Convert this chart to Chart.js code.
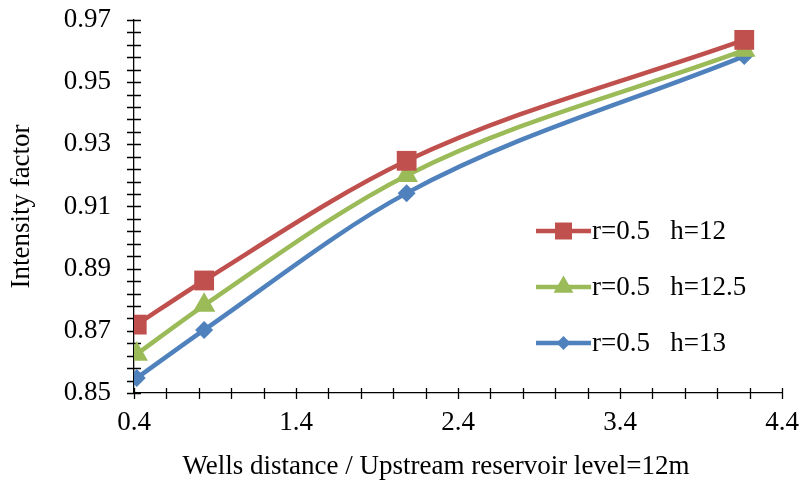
<!DOCTYPE html>
<html>
<head>
<meta charset="utf-8">
<script src="https://cdn.jsdelivr.net/npm/chart.js@4/dist/chart.umd.min.js"></script>
<style>
  html, body { margin: 0; padding: 0; background: #fff; }
  #wrap { width: 803px; height: 495px; }
</style>
</head>
<body>
<div id="wrap"><canvas id="myChart"></canvas></div>
<script>
// well distance / upstream level (5, 10, 25, 50 m over 12 m)
const xValues = [0.417, 0.833, 2.083, 4.167];
const seriesNames = ["r=0.5   h=12", "r=0.5   h=12.5", "r=0.5   h=13"];
const h12 = [0.8720, 0.8862, 0.9247, 0.9636];
const h125 = [0.8625, 0.8782, 0.9200, 0.9603];
const h13 = [0.8548, 0.8703, 0.9143, 0.9584];
const xTicks = [0.4, 1.4, 2.4, 3.4, 4.4];
const yTicks = [0.85, 0.87, 0.89, 0.91, 0.93, 0.95, 0.97];
const xTitle = "Wells distance / Upstream reservoir level=12m";

const colors = ["#C0504D", "#9BBB59", "#4F81BD"];
const shapes = ["rect", "triangle", "rectRot"];
const radii = [14, 13, 9];
const legendRadii = [12, 11.5, 7];
const serif = "'Liberation Serif', 'Times New Roman', serif";
const fontSize = 27;

function pts(ys) {
    return xValues.map((x, i) => ({x: x, y: ys[i]}));
}

const allSeries = [h12, h125, h13];
const datasets = allSeries.map((s, i) => ({
    label: seriesNames[i],
    data: pts(s),
    showLine: true,
    borderColor: colors[i],
    backgroundColor: colors[i],
    borderWidth: 4.5,
    cubicInterpolationMode: "monotone",
    pointStyle: shapes[i],
    pointRadius: radii[i],
    pointBorderWidth: 0,
    pointHoverRadius: radii[i]
}));

function isMajor(v, list) {
    return list.some(t => Math.abs(t - v) < 1e-6);
}

// tick marks that cross the axis line, like the excel original
const crossTicks = {
    id: "crossTicks",
    beforeDatasetsDraw(chart) {
        const ctx = chart.ctx;
        const xs = chart.scales.x, ys = chart.scales.y;
        const area = chart.chartArea;
        ctx.save();
        ctx.strokeStyle = "#000";
        ctx.lineWidth = 1.3;
        ctx.beginPath();
        xs.ticks.forEach(t => {
            const px = Math.round(xs.getPixelForValue(t.value)) + 0.5;
            ctx.moveTo(px, area.bottom - 5);
            ctx.lineTo(px, area.bottom + 6);
        });
        ys.ticks.forEach(t => {
            const py = Math.round(ys.getPixelForValue(t.value)) + 0.5;
            ctx.moveTo(area.left - 7, py);
            ctx.lineTo(area.left + 7, py);
        });
        ctx.stroke();
        ctx.restore();
    }
};

// legend sitting inside the plot, right side + x title (excel puts it a bit left of centre)
const innerLegend = {
    id: "innerLegend",
    afterDraw(chart) {
        const ctx = chart.ctx;
        const x0 = 536, x1 = 591, tx = 592;
        const rows = [231, 287, 343];
        ctx.save();
        ctx.font = fontSize + "px " + serif;
        ctx.textBaseline = "middle";
        chart.data.datasets.forEach((ds, i) => {
            const y = rows[i];
            ctx.strokeStyle = ds.borderColor;
            ctx.lineWidth = 4.5;
            ctx.beginPath();
            ctx.moveTo(x0, y);
            ctx.lineTo(x1, y);
            ctx.stroke();
            ctx.fillStyle = ds.backgroundColor;
            Chart.helpers.drawPoint(ctx, {pointStyle: ds.pointStyle, radius: legendRadii[i], borderWidth: 0}, (x0 + x1) / 2, y);
            ctx.fillStyle = "#000";
            ctx.fillText(ds.label, tx, y + 1);
        });
        ctx.textAlign = "center";
        ctx.fillText(xTitle, 436, 467);
        ctx.restore();
    }
};

new Chart(document.getElementById("myChart"), {
    type: "scatter",
    data: { datasets: datasets },
    options: {
        responsive: true,
        maintainAspectRatio: false,
        animation: false,
        layout: { padding: { top: 20, right: 21, left: 0, bottom: 0 } },
        plugins: {
            legend: { display: false },
            tooltip: { enabled: false }
        },
        scales: {
            x: {
                type: "linear",
                min: 0.4,
                max: 4.4,
                grid: { display: true, drawOnChartArea: false, drawTicks: true, tickLength: 14, tickColor: "rgba(0,0,0,0)" },
                border: { display: true, color: "#000", width: 1.3 },
                ticks: {
                    stepSize: 0.2,
                    autoSkip: false,
                    maxRotation: 0,
                    padding: 0,
                    color: "#000",
                    font: { family: serif, size: fontSize },
                    callback: v => isMajor(v, xTicks) ? v.toFixed(1) : ""
                },
                title: { display: false },
                afterFit: s => { s.height = 102; }
            },
            y: {
                type: "linear",
                min: 0.85,
                max: 0.97,
                grid: { display: true, drawOnChartArea: false, drawTicks: true, tickLength: 23, tickColor: "rgba(0,0,0,0)" },
                border: { display: true, color: "#000", width: 1.3 },
                ticks: {
                    stepSize: 0.004,
                    autoSkip: false,
                    maxTicksLimit: 100,
                    padding: 0,
                    color: "#000",
                    font: { family: serif, size: fontSize },
                    callback: v => isMajor(v, yTicks) ? v.toFixed(2) : ""
                },
                title: {
                    display: true,
                    text: "Intensity factor",
                    color: "#000",
                    font: { family: serif, size: fontSize },
                    padding: { top: 6, bottom: 0 }
                },
                afterFit: s => { s.width = 134; }
            }
        }
    },
    plugins: [crossTicks, innerLegend]
});
</script>
</body>
</html>
